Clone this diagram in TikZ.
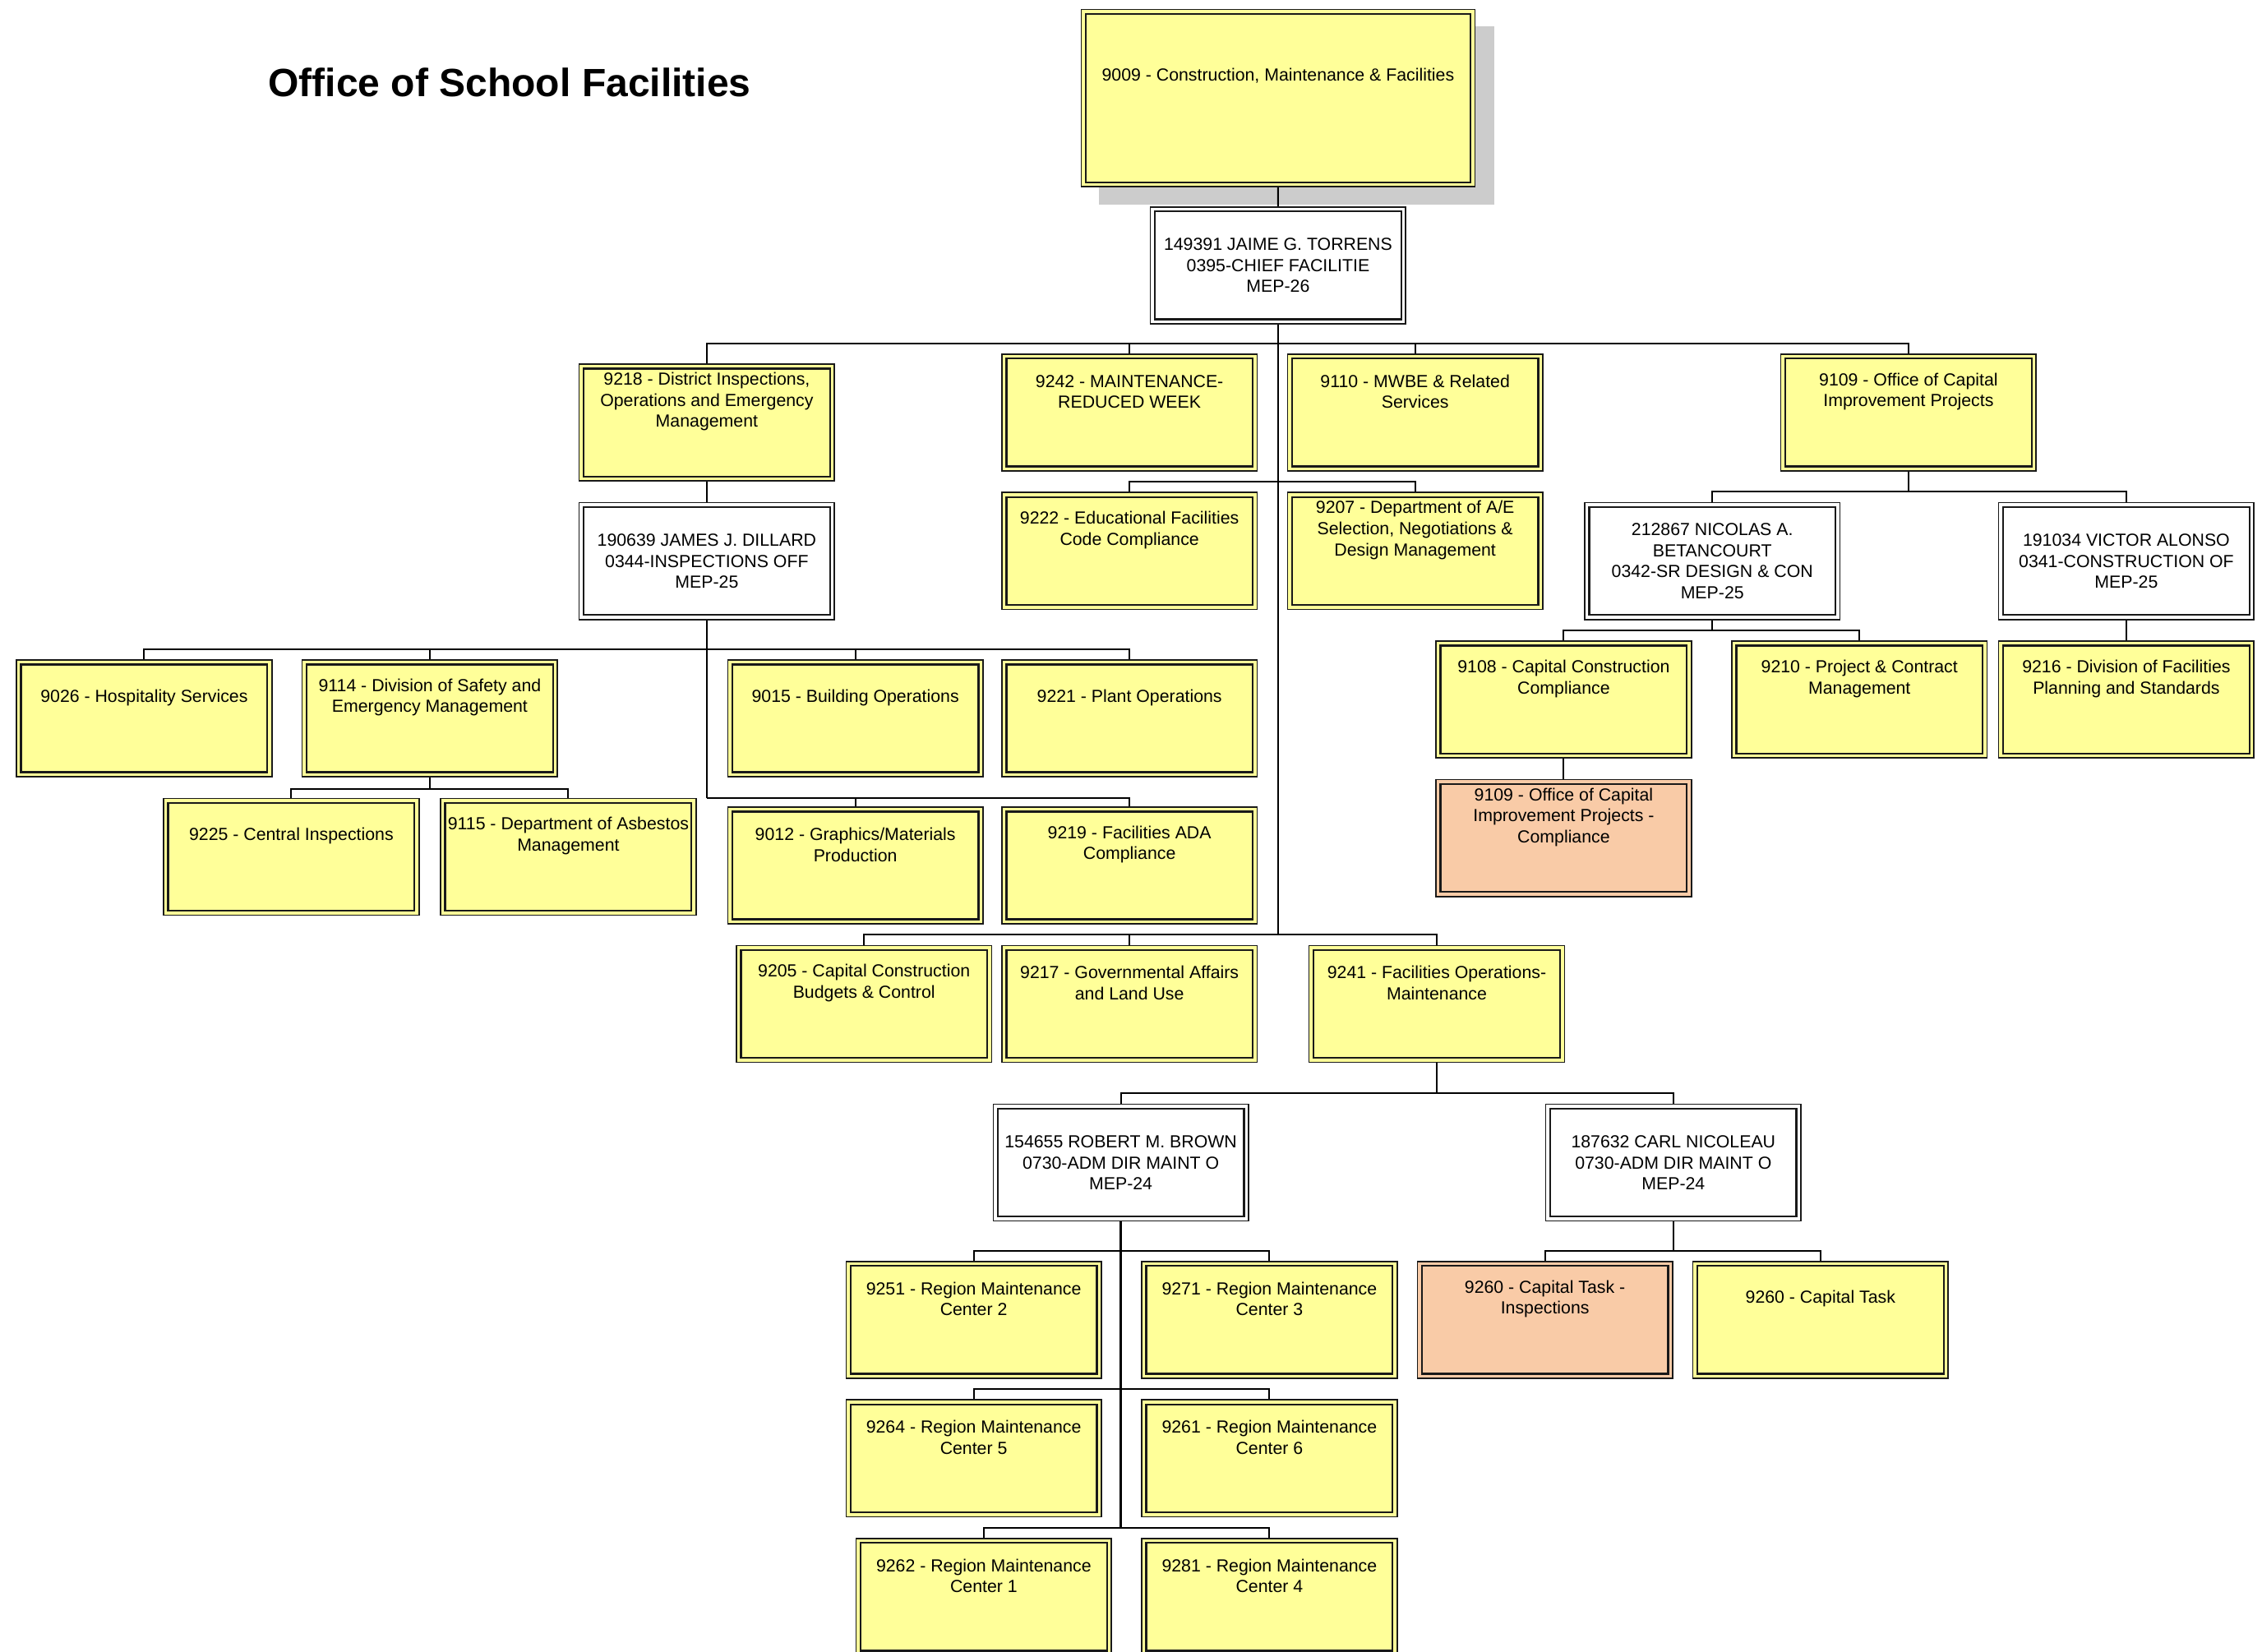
\documentclass[tikz,border=0pt]{standalone}
\usepackage{fontspec}
\setmainfont{Liberation Sans}
\newfontfamily\orgfam{Liberation Sans}
\definecolor{yel}{HTML}{FFFF99}
\definecolor{sal}{HTML}{F9CBA7}
\definecolor{shad}{HTML}{CCCCCC}
\newcommand\bxf{\orgfam\fontsize{21.3}{25.6}\selectfont}
\tikzset{
  box/.style={rectangle, draw=black!90, line width=1.6pt, fill=#1,
    minimum width=310.6pt, minimum height=142.2pt, inner sep=0pt,
    anchor=north west, align=center, font=\bxf,
    path picture={\draw[line width=2.3pt]
      ([shift={(5.5pt,-5.5pt)}]path picture bounding box.north west) rectangle
      ([shift={(-5.5pt,5.5pt)}]path picture bounding box.south east);}},
  ybox/.style={box=yel},
  sbox/.style={box=sal},
  pbox/.style={box=white},
  tl/.style={label={[anchor=center, yshift=-46.5pt, align=center, font=\bxf, inner sep=0pt]north:{#1}}},
  conn/.style={draw=black, line width=2pt},
  trunk/.style={draw=black, line width=2.8pt},
}
\begin{document}
\begin{tikzpicture}[x=1.7551pt, y=-1.7551pt]
\useasboundingbox (0,0) rectangle (1568,1145);
\clip (0,0) rectangle (1568,1145);
\fill[white] (0,0) rectangle (1568,1145);

% title
\node[anchor=base west, inner sep=0pt, font=\orgfam\bfseries\fontsize{48}{56}\selectfont] (title) at (186,67) {Office of School Facilities};

% top box with shadow
\fill[shad] (762,18) rectangle (1036,142);
\node[ybox, minimum width=479.1pt, minimum height=215.9pt,
  label={[anchor=center, yshift=-81.5pt, font=\bxf, inner sep=0pt]north:{9009 - Construction, Maintenance \& Facilities}}] (n9009) at (749,6) {};

\node[pbox] (torrens) at (797,143) {149391 JAIME G. TORRENS\\0395-CHIEF FACILITIE\\MEP-26};

% level 2
\node[ybox, tl={9218 - District Inspections,\\Operations and Emergency\\Management}] (n9218) at (401,252) {};
\node[ybox, tl={9242 - MAINTENANCE-\\REDUCED WEEK}] (n9242) at (694,245) {};
\node[ybox, tl={9110 - MWBE \& Related\\Services}] (n9110) at (892,245) {};
\node[ybox, tl={9109 - Office of Capital\\Improvement Projects}] (n9109) at (1234,245) {};

\node[ybox, tl={9222 - Educational Facilities\\Code Compliance}] (n9222) at (694,341) {};
\node[ybox, tl={9207 - Department of A/E\\Selection, Negotiations \&\\Design Management}] (n9207) at (892,341) {};

\node[pbox] (dillard) at (401,348) {190639 JAMES J. DILLARD\\0344-INSPECTIONS OFF\\MEP-25};

\node[ybox, tl={9026 - Hospitality Services}] (n9026) at (11,457) {};
\node[ybox, tl={9114 - Division of Safety and\\Emergency Management}] (n9114) at (209,457) {};
\node[ybox, tl={9015 - Building Operations}] (n9015) at (504,457) {};
\node[ybox, tl={9221 - Plant Operations}] (n9221) at (694,457) {};

\node[ybox, tl={9225 - Central Inspections}] (n9225) at (113,553) {};
\node[ybox, tl={9115 - Department of Asbestos\\Management}] (n9115) at (305,553) {};
\node[ybox, tl={9012 - Graphics/Materials\\Production}] (n9012) at (504,559) {};
\node[ybox, tl={9219 - Facilities ADA\\Compliance}] (n9219) at (694,559) {};

\node[ybox, tl={9205 - Capital Construction\\Budgets \& Control}] (n9205) at (510,655) {};
\node[ybox, tl={9217 - Governmental Affairs\\and Land Use}] (n9217) at (694,655) {};
\node[ybox, tl={9241 - Facilities Operations-\\Maintenance}] (n9241) at (907,655) {};

\node[pbox] (brown) at (688,765) {154655 ROBERT M. BROWN\\0730-ADM DIR MAINT O\\MEP-24};
\node[pbox] (nicol) at (1071,765) {187632 CARL NICOLEAU\\0730-ADM DIR MAINT O\\MEP-24};

\node[ybox, tl={9251 - Region Maintenance\\Center 2}] (n9251) at (586,874) {};
\node[ybox, tl={9271 - Region Maintenance\\Center 3}] (n9271) at (791,874) {};
\node[ybox, tl={9264 - Region Maintenance\\Center 5}] (n9264) at (586,970) {};
\node[ybox, tl={9261 - Region Maintenance\\Center 6}] (n9261) at (791,970) {};
\node[ybox, tl={9262 - Region Maintenance\\Center 1}] (n9262) at (593,1066) {};
\node[ybox, tl={9281 - Region Maintenance\\Center 4}] (n9281) at (791,1066) {};

\node[sbox, tl={9260 - Capital Task -\\Inspections}] (n9260i) at (982,874) {};
\node[ybox, tl={9260 - Capital Task}] (n9260) at (1173,874) {};

\node[pbox] (betan) at (1098,348) {212867 NICOLAS A.\\BETANCOURT\\0342-SR DESIGN \& CON\\MEP-25};
\node[pbox] (alonso) at (1385,348) {191034 VICTOR ALONSO\\0341-CONSTRUCTION OF\\MEP-25};

\node[ybox, tl={9108 - Capital Construction\\Compliance}] (n9108) at (995,444) {};
\node[ybox, tl={9210 - Project \& Contract\\Management}] (n9210) at (1200,444) {};
\node[ybox, tl={9216 - Division of Facilities\\Planning and Standards}] (n9216) at (1385,444) {};
\node[sbox, tl={9109 - Office of Capital\\Improvement Projects -\\Compliance}] (n9109c) at (995,540) {};

% connectors
\coordinate (yA) at (0,238);
\coordinate (yB) at (0,334);
\coordinate (yC) at (0,648);
\coordinate (yD) at (0,450);
\coordinate (yE) at (0,553);
\coordinate (yF) at (0,547);
\coordinate (yG) at (0,341);
\coordinate (yH) at (0,437);
\coordinate (yI) at (0,758);
\coordinate (yJ) at (0,867);
\coordinate (yK) at (0,963);
\coordinate (yL) at (0,1059);

\draw[conn] (n9009.south) -- (torrens.north);
\draw[trunk] (torrens.south) -- (torrens.south |- yC);

\draw[conn] (n9218.north) |- (n9109.north |- yA) -- (n9109.north);
\draw[conn] (n9242.north) -- (n9242.north |- yA);
\draw[conn] (n9110.north) -- (n9110.north |- yA);

\draw[conn] (n9222.north) |- (n9207.north |- yB) -- (n9207.north);

\draw[conn] (n9205.north) |- (n9241.north |- yC) -- (n9241.north);
\draw[conn] (n9217.north) -- (n9217.north |- yC);

\draw[conn] (n9218.south) -- (dillard.north);
\draw[trunk] (dillard.south) -- (dillard.south |- yE);
\draw[conn] (n9026.north) |- (n9221.north |- yD) -- (n9221.north);
\draw[conn] (n9114.north) -- (n9114.north |- yD);
\draw[conn] (n9015.north) -- (n9015.north |- yD);
\draw[conn] (dillard.south |- yE) -| (n9219.north);
\draw[conn] (n9012.north) -- (n9012.north |- yE);

\draw[conn] (n9114.south) -- (n9114.south |- yF);
\draw[conn] (n9225.north) |- (n9115.north |- yF) -- (n9115.north);

\draw[conn] (n9109.south) -- (n9109.south |- yG);
\draw[conn] (betan.north) |- (alonso.north |- yG) -- (alonso.north);
\draw[conn] (betan.south) -- (betan.south |- yH);
\draw[conn] (n9108.north) |- (n9210.north |- yH) -- (n9210.north);
\draw[conn] (alonso.south) -- (n9216.north);
\draw[conn] (n9108.south) -- (n9109c.north);

\draw[conn] (n9241.south) -- (n9241.south |- yI);
\draw[conn] (brown.north) |- (nicol.north |- yI) -- (nicol.north);
\draw[trunk] (brown.south) -- (brown.south |- yL);
\draw[conn] (n9251.north) |- (n9271.north |- yJ) -- (n9271.north);
\draw[conn] (n9264.north) |- (n9261.north |- yK) -- (n9261.north);
\draw[conn] (n9262.north) |- (n9281.north |- yL) -- (n9281.north);

\draw[conn] (nicol.south) -- (nicol.south |- yJ);
\draw[conn] (n9260i.north) |- (n9260.north |- yJ) -- (n9260.north);
\end{tikzpicture}
\end{document}
